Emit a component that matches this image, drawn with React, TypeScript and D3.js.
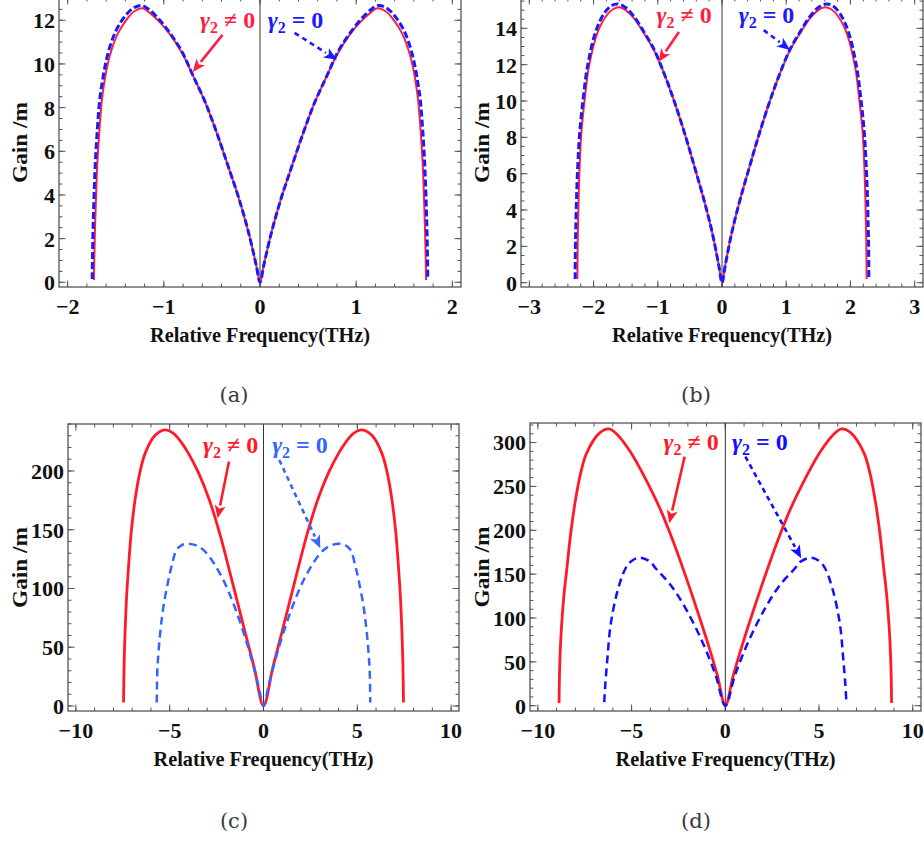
import * as d3 from "d3";

// ---- panel (a) ----
const freqRedA = [-1.727, -1.717, -1.706, -1.693, -1.672, -1.644, -1.62, -1.589, -1.544, -1.476, -1.389, -1.31, -1.22, -1.15, -1.05, -0.93, -0.81, -0.7, -0.57, -0.45, -0.33, -0.22, -0.12, -0.04, 0, 0.04, 0.12, 0.22, 0.33, 0.45, 0.57, 0.7, 0.81, 0.93, 1.05, 1.15, 1.22, 1.31, 1.389, 1.476, 1.544, 1.589, 1.62, 1.644, 1.672, 1.693, 1.706, 1.717, 1.727];
const gainRedA = [0.1, 2.24, 3.77, 5.3, 6.83, 8.35, 9.12, 9.88, 10.64, 11.41, 12.02, 12.4, 12.55, 12.35, 11.95, 11.32, 10.5, 9.5, 8.25, 6.85, 5.3, 3.85, 2.3, 0.8, 0, 0.8, 2.3, 3.85, 5.3, 6.85, 8.25, 9.5, 10.5, 11.32, 11.95, 12.35, 12.55, 12.4, 12.02, 11.41, 10.64, 9.88, 9.12, 8.35, 6.83, 5.3, 3.77, 2.24, 0.1];
const freqBlueA = [-1.745, -1.737, -1.727, -1.714, -1.694, -1.667, -1.642, -1.612, -1.567, -1.5, -1.41, -1.32, -1.23, -1.15, -1.05, -0.93, -0.81, -0.7, -0.57, -0.45, -0.33, -0.22, -0.12, -0.04, 0, 0.04, 0.12, 0.22, 0.33, 0.45, 0.57, 0.7, 0.81, 0.93, 1.05, 1.15, 1.23, 1.32, 1.41, 1.5, 1.567, 1.612, 1.642, 1.667, 1.694, 1.714, 1.727, 1.737, 1.745];
const gainBlueA = [0.15, 2.24, 3.77, 5.3, 6.83, 8.35, 9.12, 9.88, 10.7, 11.5, 12.15, 12.55, 12.68, 12.48, 12.05, 11.38, 10.55, 9.5, 8.25, 6.85, 5.3, 3.85, 2.3, 0.8, 0, 0.8, 2.3, 3.85, 5.3, 6.85, 8.25, 9.5, 10.55, 11.38, 12.05, 12.48, 12.68, 12.55, 12.15, 11.5, 10.7, 9.88, 9.12, 8.35, 6.83, 5.3, 3.77, 2.24, 0.15];
const xTicksA = [-2, -1, 0, 1, 2];
const yTicksA = [0, 2, 4, 6, 8, 10, 12];

// ---- panel (b) ----
const freqRedB = [-2.252, -2.248, -2.243, -2.233, -2.217, -2.191, -2.139, -2.072, -1.942, -1.812, -1.7, -1.6, -1.5, -1.37, -1.215, -1.06, -0.9, -0.75, -0.58, -0.43, -0.28, -0.15, -0.05, 0, 0.05, 0.15, 0.28, 0.43, 0.58, 0.75, 0.9, 1.06, 1.215, 1.37, 1.5, 1.6, 1.7, 1.812, 1.942, 2.072, 2.139, 2.191, 2.217, 2.233, 2.243, 2.248, 2.252];
const gainRedB = [0.2, 2.0, 3.0, 4.55, 6.38, 8.22, 10.05, 11.89, 13.73, 14.64, 15.05, 15.16, 15.0, 14.55, 13.73, 12.8, 11.5, 10.05, 8.2, 6.4, 4.55, 2.72, 0.95, 0, 0.95, 2.72, 4.55, 6.4, 8.2, 10.05, 11.5, 12.8, 13.73, 14.55, 15.0, 15.16, 15.05, 14.64, 13.73, 11.89, 10.05, 8.22, 6.38, 4.55, 3.0, 2.0, 0.2];
const freqBlueB = [-2.287, -2.283, -2.277, -2.265, -2.245, -2.215, -2.16, -2.09, -1.96, -1.83, -1.72, -1.62, -1.5, -1.37, -1.215, -1.06, -0.9, -0.75, -0.58, -0.43, -0.28, -0.15, -0.05, 0, 0.05, 0.15, 0.28, 0.43, 0.58, 0.75, 0.9, 1.06, 1.215, 1.37, 1.5, 1.62, 1.72, 1.83, 1.96, 2.09, 2.16, 2.215, 2.245, 2.265, 2.277, 2.283, 2.287];
const gainBlueB = [0.2, 2.0, 3.0, 4.7, 6.5, 8.3, 10.2, 12.0, 13.9, 14.85, 15.25, 15.34, 15.15, 14.65, 13.8, 12.85, 11.5, 10.05, 8.2, 6.4, 4.55, 2.72, 0.95, 0, 0.95, 2.72, 4.55, 6.4, 8.2, 10.05, 11.5, 12.85, 13.8, 14.65, 15.15, 15.34, 15.25, 14.85, 13.9, 12.0, 10.2, 8.3, 6.5, 4.7, 3.0, 2.0, 0.2];
const xTicksB = [-3, -2, -1, 0, 1, 2, 3];
const yTicksB = [0, 2, 4, 6, 8, 10, 12, 14];

// ---- panel (c) ----
const freqRedC = [-7.46, -7.43, -7.38, -7.3, -7.2, -7.05, -6.85, -6.6, -6.31, -5.8, -5.25, -4.8, -4.36, -4.0, -3.48, -2.9, -2.32, -1.7, -1.0, -0.5, 0, 0.5, 1.0, 1.7, 2.32, 2.9, 3.48, 4.0, 4.36, 4.8, 5.25, 5.8, 6.31, 6.6, 6.85, 7.05, 7.2, 7.3, 7.38, 7.43, 7.46];
const gainRedC = [3, 35, 62, 92, 117, 148, 175, 198, 215, 230, 235, 232, 224, 215, 199, 176, 146, 108, 64, 33, 0, 33, 64, 108, 146, 176, 199, 215, 224, 232, 235, 230, 215, 198, 175, 148, 117, 92, 62, 35, 3];
const freqBlueC = [-5.69, -5.66, -5.6, -5.52, -5.43, -5.3, -5.07, -4.9, -4.63, -4.35, -4.01, -3.5, -3.03, -2.23, -1.53, -0.82, -0.28, 0, 0.28, 0.82, 1.53, 2.23, 3.03, 3.5, 4.01, 4.35, 4.63, 4.9, 5.07, 5.3, 5.43, 5.52, 5.6, 5.66, 5.69];
const gainBlueC = [3, 30, 45, 60, 73, 88, 107, 119, 133, 137, 138, 136, 130, 110, 84, 50, 18, 0, 18, 50, 84, 110, 130, 136, 138, 137, 133, 119, 107, 88, 73, 60, 45, 30, 3];
const xTicksC = [-10, -5, 0, 5, 10];
const yTicksC = [0, 50, 100, 150, 200];

// ---- panel (d) ----
const freqRedD = [-8.87, -8.84, -8.78, -8.7, -8.6, -8.46, -8.25, -8.02, -7.75, -7.4, -6.7, -6.21, -5.76, -5.05, -4.34, -3.45, -2.74, -2.12, -1.55, -0.96, -0.43, 0, 0.43, 0.96, 1.55, 2.12, 2.74, 3.45, 4.34, 5.05, 5.76, 6.21, 6.7, 7.4, 7.75, 8.02, 8.25, 8.46, 8.6, 8.7, 8.78, 8.84, 8.87];
const gainRedD = [3, 42, 75, 102, 128, 155, 196, 231, 262, 288, 311, 315.5, 309, 289, 262, 223, 185, 148, 112, 73, 35, 0, 35, 73, 112, 148, 185, 223, 262, 289, 309, 315.5, 311, 288, 262, 231, 196, 155, 128, 102, 75, 42, 3];
const freqBlueD = [-6.46, -6.4, -6.29, -6.12, -5.76, -5.32, -5.0, -4.57, -4.0, -3.72, -2.92, -2.12, -1.23, -0.52, 0, 0.52, 1.23, 2.12, 2.92, 3.72, 4.0, 4.57, 5.0, 5.32, 5.76, 6.12, 6.29, 6.4, 6.46];
const gainBlueD = [4, 25, 54, 92, 130, 156.7, 165, 168.8, 164, 156.7, 137.6, 111, 73, 35, 0, 35, 73, 111, 137.6, 156.7, 164, 168.8, 165, 156.7, 130, 92, 54, 25, 4];
const xTicksD = [-10, -5, 0, 5, 10];
const yTicksD = [0, 50, 100, 150, 200, 250, 300];

const serif = "'Liberation Serif', 'Times New Roman', serif";

type Pt = [number, number];

const panels = [
  {
    id: "a",
    frame: { left: 59, right: 461, top: -2, bottom: 287 },
    xDomain: [-2.09, 2.09],
    yDomain: [-0.215, 13.02],
    xTicks: xTicksA, yTicks: yTicksA, xMinor: 0.2, yMinor: 0.5,
    red: { freq: freqRedA, gain: gainRedA }, blue: { freq: freqBlueA, gain: gainBlueA },
    redColor: "#ff1f45", blueColor: "#1a1aff", redWidth: 2, blueWidth: 3, dash: "7,3",
    redLabel: [-0.05, 11.63], blueLabel: [0.08, 11.63],
    redArrow: [[-0.39, 11.33], [-0.7, 9.63]], blueArrow: [[0.36, 11.42], [0.8, 10.19]],
    yTitleX: 20, caption: "(a)", captionX: 234, captionY: 402,
  },
  {
    id: "b",
    frame: { left: 521, right: 923, top: -2, bottom: 287 },
    xDomain: [-3.13, 3.13],
    yDomain: [-0.237, 15.67],
    xTicks: xTicksB, yTicks: yTicksB, xMinor: 0.2, yMinor: 0.5,
    red: { freq: freqRedB, gain: gainRedB }, blue: { freq: freqBlueB, gain: gainBlueB },
    redColor: "#ff1f45", blueColor: "#1a1aff", redWidth: 2, blueWidth: 3, dash: "7,3",
    redLabel: [-0.16, 14.28], blueLabel: [0.26, 14.28],
    redArrow: [[-0.67, 13.8], [-0.99, 12.15]], blueArrow: [[0.65, 13.9], [1.06, 12.81]],
    yTitleX: 481.5, caption: "(b)", captionX: 696, captionY: 402,
  },
  {
    id: "c",
    frame: { left: 68, right: 459, top: 424, bottom: 711 },
    xDomain: [-10.42, 10.42],
    yDomain: [-4.26, 240],
    xTicks: xTicksC, yTicks: yTicksC, xMinor: 1, yMinor: 10,
    red: { freq: freqRedC, gain: gainRedC }, blue: { freq: freqBlueC, gain: gainBlueC },
    redColor: "#ff1a2a", blueColor: "#3366ff", redWidth: 2.8, blueWidth: 2.5, dash: "8,5",
    redLabel: [-0.28, 215], blueLabel: [0.46, 215],
    redArrow: [[-1.84, 208], [-2.45, 159.7]], blueArrow: [[0.84, 209.4], [3.03, 134.2]],
    yTitleX: 20, caption: "(c)", captionX: 234, captionY: 828,
  },
  {
    id: "d",
    frame: { left: 530, right: 921, top: 423, bottom: 711 },
    xDomain: [-10.42, 10.44],
    yDomain: [-6.04, 322.3],
    xTicks: xTicksD, yTicks: yTicksD, xMinor: 1, yMinor: 10,
    red: { freq: freqRedD, gain: gainRedD }, blue: { freq: freqBlueD, gain: gainBlueD },
    redColor: "#ff1a2a", blueColor: "#1010ff", redWidth: 2.8, blueWidth: 2.5, dash: "8,5",
    redLabel: [-0.35, 291.6], blueLabel: [0.36, 291.6],
    redArrow: [[-2.17, 284], [-2.99, 208]], blueArrow: [[1.07, 284], [4.05, 168]],
    yTitleX: 481.5, caption: "(d)", captionX: 696, captionY: 828,
  },
];

function fmt(v: number) {
  return (v < 0 ? "\u2212" : "") + Math.abs(v);
}

function minorTicks(domain: number[], step: number) {
  const start = Math.ceil(domain[0] / step);
  const end = Math.floor(domain[1] / step);
  return d3.range(start, end + 1).map((i) => +(i * step).toFixed(6));
}

function Arrow({ from, to, color, dashed }: { from: Pt; to: Pt; color: string; dashed: boolean }) {
  const ang = Math.atan2(to[1] - from[1], to[0] - from[0]);
  const headLen = 13;
  const headHalf = 5.5;
  const bx = to[0] - headLen * Math.cos(ang);
  const by = to[1] - headLen * Math.sin(ang);
  const px = -Math.sin(ang) * headHalf;
  const py = Math.cos(ang) * headHalf;
  return (
    <g>
      <line
        x1={from[0]} y1={from[1]} x2={bx} y2={by}
        stroke={color} strokeWidth={2.6}
        strokeDasharray={dashed ? "5,4" : undefined}
      />
      <path
        d={`M${to[0]},${to[1]}L${bx + px},${by + py}L${bx + headLen * 0.25 * Math.cos(ang)},${by + headLen * 0.25 * Math.sin(ang)}L${bx - px},${by - py}Z`}
        fill={color}
      />
    </g>
  );
}

function GammaLabel({ x, y, color, rel, anchor }: { x: number; y: number; color: string; rel: string; anchor: string }) {
  return (
    <text x={x} y={y} fill={color} fontFamily={serif} fontWeight="bold" fontSize={24} textAnchor={anchor}>
      <tspan fontStyle="italic">γ</tspan>
      <tspan fontSize={16} dy={5}>2</tspan>
      <tspan dy={-5}>{` ${rel} 0`}</tspan>
    </text>
  );
}

function Panel({ p }: { p: (typeof panels)[number] }) {
  const { left, right, top, bottom } = p.frame;
  const x = d3.scaleLinear().domain(p.xDomain).range([left, right]);
  const y = d3.scaleLinear().domain(p.yDomain).range([bottom, top]);
  const line = (s: { freq: number[]; gain: number[] }) =>
    d3
      .line<number>()
      .x((_, i) => x(s.freq[i]))
      .y((g) => y(g))
      .curve(d3.curveCatmullRom.alpha(0.5))(s.gain) || "";

  const xMinor = minorTicks(p.xDomain, p.xMinor);
  const yMinor = minorTicks(p.yDomain, p.yMinor);
  const frameColor = "#555";
  const major = 6.5;
  const minor = 3.5;
  const clipId = `clip-${p.id}`;
  const toPx = (pt: number[]): Pt => [x(pt[0]), y(pt[1])];

  return (
    <g>
      <clipPath id={clipId}>
        <rect x={left} y={top} width={right - left} height={bottom - top} />
      </clipPath>

      {/* ticks on all four sides */}
      <g stroke={frameColor} strokeWidth={1}>
        {xMinor.map((t) => (
          <g key={`xm${t}`}>
            <line x1={x(t)} x2={x(t)} y1={bottom} y2={bottom - minor} />
            <line x1={x(t)} x2={x(t)} y1={top} y2={top + minor} />
          </g>
        ))}
        {p.xTicks.map((t) => (
          <g key={`xM${t}`}>
            <line x1={x(t)} x2={x(t)} y1={bottom} y2={bottom - major} />
            <line x1={x(t)} x2={x(t)} y1={top} y2={top + major} />
          </g>
        ))}
        {yMinor.map((t) => (
          <g key={`ym${t}`}>
            <line x1={left} x2={left + minor} y1={y(t)} y2={y(t)} />
            <line x1={right} x2={right - minor} y1={y(t)} y2={y(t)} />
          </g>
        ))}
        {p.yTicks.map((t) => (
          <g key={`yM${t}`}>
            <line x1={left} x2={left + major} y1={y(t)} y2={y(t)} />
            <line x1={right} x2={right - major} y1={y(t)} y2={y(t)} />
          </g>
        ))}
      </g>

      {/* vertical axis at zero */}
      <line x1={x(0)} x2={x(0)} y1={top} y2={bottom} stroke="#333" strokeWidth={1} />

      <g clipPath={`url(#${clipId})`} fill="none">
        <path d={line(p.red)} stroke={p.redColor} strokeWidth={p.redWidth} />
        <path d={line(p.blue)} stroke={p.blueColor} strokeWidth={p.blueWidth} strokeDasharray={p.dash} />
      </g>

      <rect x={left} y={top} width={right - left} height={bottom - top} fill="none" stroke={frameColor} strokeWidth={1.3} />

      {/* tick labels */}
      <g fontFamily={serif} fontWeight="bold" fontSize={22} fill="#111">
        {p.xTicks.map((t) => (
          <text key={`xl${t}`} x={x(t)} y={bottom + 27} textAnchor="middle">
            {fmt(t)}
          </text>
        ))}
        {p.yTicks.map((t) => (
          <text key={`yl${t}`} x={left - 4} y={y(t)} dy="0.36em" textAnchor="end">
            {fmt(t)}
          </text>
        ))}
      </g>

      <text
        x={(left + right) / 2} y={bottom + 55} textAnchor="middle"
        fontFamily={serif} fontWeight="bold" fontSize={21} fill="#111"
        textLength={220} lengthAdjust="spacingAndGlyphs"
      >
        Relative Frequency(THz)
      </text>
      <text
        transform={`translate(${p.yTitleX + 7}, ${(top + bottom) / 2}) rotate(-90)`}
        textAnchor="middle" fontFamily={serif} fontWeight="bold" fontSize={22} fill="#111"
        textLength={81} lengthAdjust="spacingAndGlyphs"
      >
        Gain /m
      </text>

      {/* annotations */}
      <Arrow from={toPx(p.redArrow[0])} to={toPx(p.redArrow[1])} color={p.redColor} dashed={false} />
      <Arrow from={toPx(p.blueArrow[0])} to={toPx(p.blueArrow[1])} color={p.blueColor} dashed={true} />
      <GammaLabel x={x(p.redLabel[0])} y={y(p.redLabel[1])} color={p.redColor} rel="≠" anchor="end" />
      <GammaLabel x={x(p.blueLabel[0])} y={y(p.blueLabel[1])} color={p.blueColor} rel="=" anchor="start" />

      <text
        x={p.captionX} y={p.captionY} textAnchor="middle"
        fontFamily="'DejaVu Serif', serif" fontSize={21} fill="#3a3a3a"
      >
        {p.caption}
      </text>
    </g>
  );
}

export default function App() {
  return (
    <div style={{ position: "absolute", left: 0, top: 0 }}>
      <svg width={924} height={841} style={{ display: "block", background: "#fff" }}>
        {panels.map((p) => (
          <Panel key={p.id} p={p} />
        ))}
      </svg>
    </div>
  );
}
